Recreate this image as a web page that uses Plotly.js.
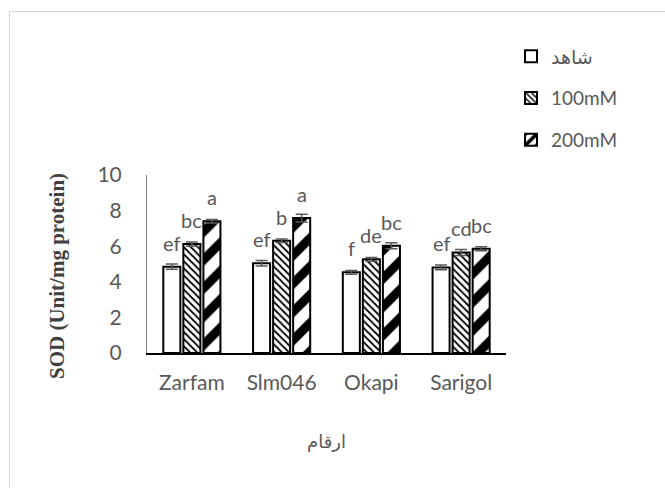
<!DOCTYPE html>
<html>
<head>
<meta charset="utf-8">
<script src="https://cdn.plot.ly/plotly-3.0.1.min.js"></script>
<style>
body{margin:0;padding:0;background:#fff;}
#chart{position:absolute;left:0;top:0;width:665px;height:488px;}
#frame{position:absolute;left:9px;top:11px;width:700px;height:520px;border-left:1.5px solid #d9d9d9;border-top:1.5px solid #d9d9d9;pointer-events:none;}
</style>
</head>
<body>
<div id="chart"></div>
<div id="frame"></div>
<script>
const categories = ['Zarfam', 'Slm046', 'Okapi', 'Sarigol'];
const seriesNames = ['شاهد', '100mM', '200mM'];
const controlVals = [4.85, 5.04, 4.53, 4.81];
const mM100Vals = [6.12, 6.31, 5.26, 5.65];
const mM200Vals = [7.40, 7.58, 6.03, 5.86];
const controlErr = [0.15, 0.15, 0.10, 0.13];
const mM100Err = [0.12, 0.10, 0.11, 0.17];
const mM200Err = [0.10, 0.22, 0.17, 0.11];
const controlLetters = ['ef', 'ef', 'f', 'ef'];
const mM100Letters = ['bc', 'b', 'de', 'cd'];
const mM200Letters = ['a', 'a', 'bc', 'bc'];
const yTitle = 'SOD (Unit/mg protein)';
const xTitle = 'ارقام';

const vals = [controlVals, mM100Vals, mM200Vals];
const errs = [controlErr, mM100Err, mM200Err];
const letters = [controlLetters, mM100Letters, mM200Letters];

const FONT = 'Lato, "DejaVu Sans", sans-serif';
const GREY = '#595959';

const patterns = [
  {shape: '', bgcolor: '#ffffff'},
  {shape: '\\', fgcolor: '#000000', bgcolor: '#ffffff', size: 5, solidity: 0.35},
  {shape: '/', fgcolor: '#000000', bgcolor: '#ffffff', size: 20, solidity: 0.45}
];

const traces = seriesNames.map((n, i) => ({
  type: 'bar',
  name: n,
  x: categories,
  y: vals[i],
  legendgroup: 'g' + i,
  marker: {color: '#ffffff', line: {color: '#000000', width: 2}, pattern: patterns[i]},
  error_y: {type: 'data', array: errs[i], visible: true, color: GREY, thickness: 1.5, width: 6}
}));

const margin = {l: 147, r: 159, t: 175, b: 135};
const plotW = 665 - margin.l - margin.r;
const bargap = 0.33;
const slot = plotW / categories.length * (1 - bargap) / seriesNames.length;

const annotations = [];
for (let i = 0; i < seriesNames.length; i++) {
  for (let j = 0; j < categories.length; j++) {
    annotations.push({
      x: categories[j], y: vals[i][j], xref: 'x', yref: 'y',
      text: letters[i][j], showarrow: false,
      xshift: (i - 1) * slot, yshift: 24, yanchor: 'middle',
      font: {family: FONT, size: 20, color: GREY}
    });
  }
}
annotations.push({
  xref: 'paper', yref: 'paper', x: 0, y: 0.5, xshift: -90, yshift: -12,
  xanchor: 'center', yanchor: 'middle', textangle: -90, showarrow: false,
  text: '<b>' + yTitle + '</b>',
  font: {family: '"Liberation Serif", serif', size: 21, color: '#404040'}
});

const layout = {
  width: 665, height: 488,
  margin: margin,
  paper_bgcolor: '#ffffff', plot_bgcolor: '#ffffff',
  barmode: 'group', bargap: bargap, bargroupgap: 0.15,
  font: {family: FONT, color: GREY, size: 17},
  xaxis: {
    showline: true, linecolor: '#000000', linewidth: 2,
    ticks: '', showgrid: false, zeroline: false,
    tickfont: {family: FONT, size: 21, color: GREY},
    ticklabelstandoff: 10,
    title: {text: xTitle, font: {family: FONT, size: 18, color: GREY}, standoff: 42}
  },
  yaxis: {
    range: [0, 10], dtick: 2, showline: true, linecolor: '#7f7f7f', linewidth: 1,
    ticks: '', showgrid: false, zeroline: false,
    tickfont: {family: FONT, size: 21, color: GREY},
    ticklabelstandoff: 20
  },
  showlegend: true,
  legend: {
    x: 1.014, xanchor: 'left', y: 1.773, yanchor: 'top',
    traceorder: 'grouped', tracegroupgap: 14,
    font: {family: FONT, size: 19, color: GREY},
    itemwidth: 30, bgcolor: 'rgba(0,0,0,0)'
  },
  annotations: annotations
};

Plotly.newPlot('chart', traces, layout, {displayModeBar: false, staticPlot: true});
</script>
</body>
</html>
